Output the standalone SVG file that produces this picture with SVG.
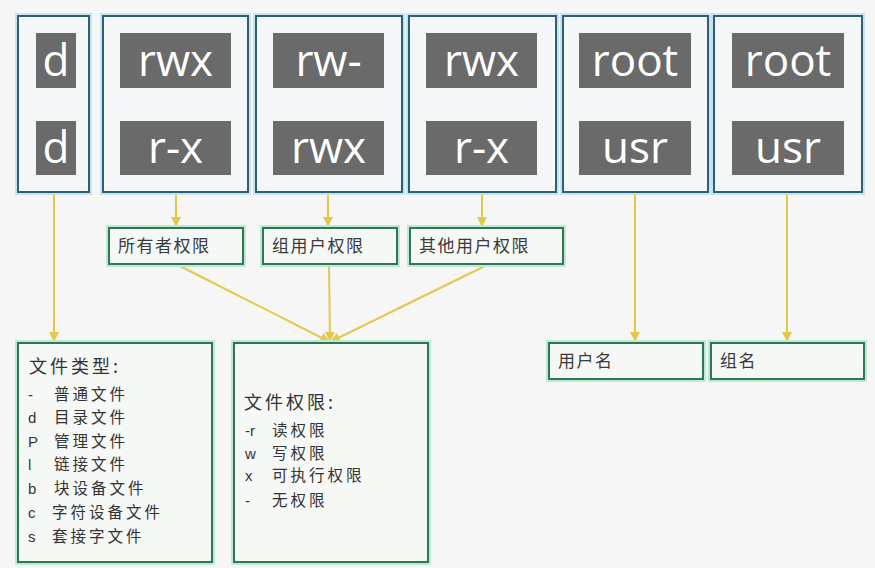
<svg xmlns="http://www.w3.org/2000/svg" width="875" height="568" viewBox="0 0 875 568">
<defs>
<style>
.bg{fill:#f5f6f5}
.halo{fill:none;stroke:#c6e4ee;stroke-width:6}
.box{fill:#f3f7f8;stroke:#2f5f6f;stroke-width:2}
.ghalo{fill:none;stroke:#bfead2;stroke-width:6}
.gbox{fill:#f6f8f6;stroke:#2f7658;stroke-width:2}
.cell{fill:#6a6a6a}
.big{font-family:"Open Sans","DejaVu Sans",sans-serif;font-size:44px;fill:#ffffff;text-anchor:middle}
.lbl{font-family:"Noto Sans CJK SC",sans-serif;font-size:17px;letter-spacing:1.5px;fill:#3a3a3a}
.txt{font-family:"Noto Sans CJK SC",sans-serif;font-size:15.5px;letter-spacing:3px;fill:#333333}
.hd{font-family:"Noto Sans CJK SC",sans-serif;font-size:18px;letter-spacing:3px;fill:#333333}
.ltr{font-family:"Liberation Sans",sans-serif;font-size:15px;fill:#333333}
.conn{stroke:#e2c94c;stroke-width:2;fill:none}
</style>
<marker id="ah" viewBox="0 0 10 10" refX="10" refY="5" markerWidth="5" markerHeight="5" orient="auto" markerUnits="strokeWidth">
<path d="M0,0 L10,5 L0,10 z" fill="#e2c94c"/>
</marker>
</defs>
<rect class="bg" x="0" y="0" width="875" height="568"/>

<g id="connectors">
<line class="conn" x1="54" y1="193" x2="54" y2="342" marker-end="url(#ah)"/>
<line class="conn" x1="176" y1="193" x2="176" y2="227" marker-end="url(#ah)"/>
<line class="conn" x1="328" y1="193" x2="328" y2="227" marker-end="url(#ah)"/>
<line class="conn" x1="482" y1="193" x2="482" y2="227" marker-end="url(#ah)"/>
<line class="conn" x1="178" y1="265" x2="330" y2="342" marker-end="url(#ah)"/>
<line class="conn" x1="329" y1="265" x2="330" y2="342" marker-end="url(#ah)"/>
<line class="conn" x1="487" y1="265" x2="330" y2="342" marker-end="url(#ah)"/>
<line class="conn" x1="635" y1="193" x2="635" y2="342" marker-end="url(#ah)"/>
<line class="conn" x1="787" y1="193" x2="787" y2="342" marker-end="url(#ah)"/>
</g>

<g id="type">
<rect class="halo" x="18" y="16" width="71" height="176"/>
<rect class="box" x="18" y="16" width="71" height="176"/>
<rect class="cell" x="36" y="33" width="40" height="55"/>
<rect class="cell" x="36" y="121" width="40" height="54"/>
<text class="big" x="56" y="76">d</text>
<text class="big" x="56" y="163">d</text>
</g>

<g id="owner">
<rect class="halo" x="103" y="16" width="145" height="176"/>
<rect class="box" x="103" y="16" width="145" height="176"/>
<rect class="cell" x="120" y="33" width="111" height="55"/>
<rect class="cell" x="120" y="121" width="111" height="54"/>
<text class="big" x="175.5" y="76">rwx</text>
<text class="big" x="175.5" y="163">r-x</text>
</g>

<g id="group">
<rect class="halo" x="256" y="16" width="146" height="176"/>
<rect class="box" x="256" y="16" width="146" height="176"/>
<rect class="cell" x="273" y="33" width="111" height="55"/>
<rect class="cell" x="273" y="121" width="111" height="54"/>
<text class="big" x="328.5" y="76">rw-</text>
<text class="big" x="328.5" y="163">rwx</text>
</g>

<g id="other">
<rect class="halo" x="409" y="16" width="147" height="176"/>
<rect class="box" x="409" y="16" width="147" height="176"/>
<rect class="cell" x="426" y="33" width="111" height="55"/>
<rect class="cell" x="426" y="121" width="111" height="54"/>
<text class="big" x="481.5" y="76">rwx</text>
<text class="big" x="481.5" y="163">r-x</text>
</g>

<g id="user">
<rect class="halo" x="563" y="16" width="145" height="176"/>
<rect class="box" x="563" y="16" width="145" height="176"/>
<rect class="cell" x="579" y="33" width="112" height="55"/>
<rect class="cell" x="579" y="121" width="112" height="54"/>
<text class="big" x="635" y="76">root</text>
<text class="big" x="635" y="163">usr</text>
</g>

<g id="grp">
<rect class="halo" x="714" y="16" width="148" height="176"/>
<rect class="box" x="714" y="16" width="148" height="176"/>
<rect class="cell" x="732" y="33" width="112" height="55"/>
<rect class="cell" x="732" y="121" width="112" height="54"/>
<text class="big" x="788" y="76">root</text>
<text class="big" x="788" y="163">usr</text>
</g>

<g id="owner-perm">
<rect class="ghalo" x="109" y="228" width="134" height="36"/>
<rect class="gbox" x="109" y="228" width="134" height="36"/>
<text class="lbl" x="118" y="252">所有者权限</text>
</g>

<g id="group-perm">
<rect class="ghalo" x="263" y="228" width="134" height="36"/>
<rect class="gbox" x="263" y="228" width="134" height="36"/>
<text class="lbl" x="272" y="252">组用户权限</text>
</g>

<g id="other-perm">
<rect class="ghalo" x="410" y="228" width="153" height="36"/>
<rect class="gbox" x="410" y="228" width="153" height="36"/>
<text class="lbl" x="419" y="252">其他用户权限</text>
</g>

<g id="file-type">
<rect class="ghalo" x="18" y="343" width="194" height="219"/>
<rect class="gbox" x="18" y="343" width="194" height="219"/>
<text class="hd" x="29" y="373">文件类型:</text>
<text class="ltr" x="28" y="400">-</text><text class="txt" x="54" y="400">普通文件</text>
<text class="ltr" x="28" y="423">d</text><text class="txt" x="54" y="423">目录文件</text>
<text class="ltr" x="28" y="447">P</text><text class="txt" x="54" y="447">管理文件</text>
<text class="ltr" x="28" y="470">l</text><text class="txt" x="54" y="470">链接文件</text>
<text class="ltr" x="28" y="494">b</text><text class="txt" x="54" y="494">块设备文件</text>
<text class="ltr" x="28" y="518">c</text><text class="txt" x="52" y="518">字符设备文件</text>
<text class="ltr" x="28" y="542">s</text><text class="txt" x="52" y="542">套接字文件</text>
</g>

<g id="file-perm">
<rect class="ghalo" x="234" y="343" width="194" height="219"/>
<rect class="gbox" x="234" y="343" width="194" height="219"/>
<text class="hd" x="244" y="409">文件权限:</text>
<text class="ltr" x="245" y="436">-r</text><text class="txt" x="272" y="436">读权限</text>
<text class="ltr" x="245" y="459">w</text><text class="txt" x="272" y="459">写权限</text>
<text class="ltr" x="245" y="481">x</text><text class="txt" x="272" y="481">可执行权限</text>
<text class="ltr" x="245" y="506">-</text><text class="txt" x="272" y="506">无权限</text>
</g>

<g id="username">
<rect class="ghalo" x="549" y="343" width="154" height="36"/>
<rect class="gbox" x="549" y="343" width="154" height="36"/>
<text class="lbl" x="558" y="367">用户名</text>
</g>

<g id="groupname">
<rect class="ghalo" x="711" y="343" width="153" height="36"/>
<rect class="gbox" x="711" y="343" width="153" height="36"/>
<text class="lbl" x="720" y="367">组名</text>
</g>
</svg>
